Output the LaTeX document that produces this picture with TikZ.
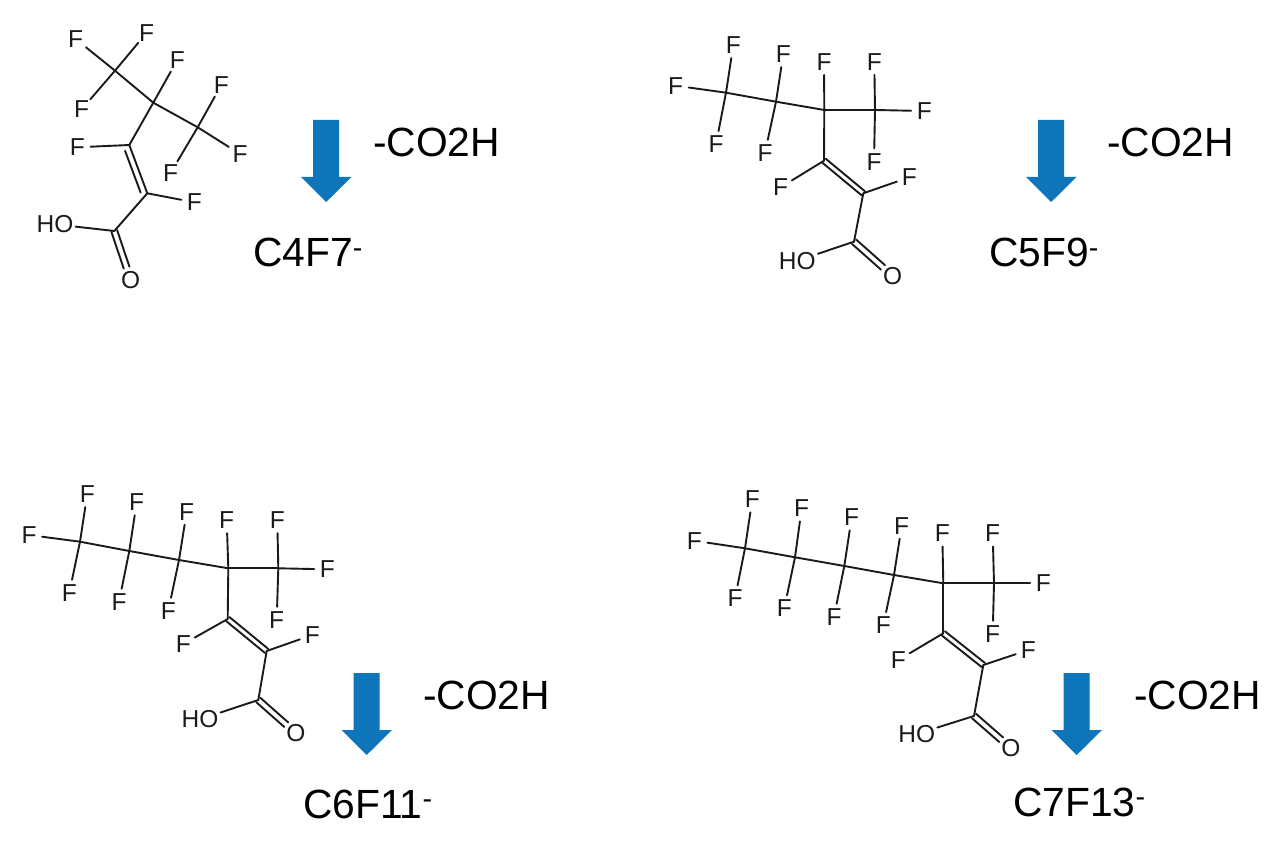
\documentclass[tikz,border=0pt]{standalone}
\usepackage{fontspec}
\setmainfont{Liberation Sans}
\usetikzlibrary{calc}
\definecolor{arrowblue}{HTML}{0E75BB}
\definecolor{bondgrey}{HTML}{1A1A1A}
\tikzset{
  atom/.style={circle,inner sep=0pt,minimum size=26pt,text=bondgrey,font=\fontsize{24.5}{28}\selectfont},
  hydroxyl/.style={rectangle,inner sep=2pt,text=bondgrey,font=\fontsize{24.5}{28}\selectfont},
  bond/.style={draw=bondgrey,line width=1.9pt,line cap=round},
  heading/.style={anchor=base west,inner sep=0pt,text=black,font=\fontsize{40.8}{48}\selectfont},
  flowarrow/.style={fill=arrowblue,draw=none}
}
% double C=C bond: main line a--b plus a shorter parallel partner
\newcommand{\ccdouble}[3]{%
  \draw[bond] (#1) -- (#2);
  \draw[bond,shorten <=4pt,shorten >=3pt] ($(#1)!#3!90:(#2)$) -- ($(#2)!#3!-90:(#1)$);
}
% double C=C bond: two lines either side of the axis
\newcommand{\ccsym}[2]{%
  \draw[bond] ($(#1)!2.6pt!90:(#2)$) -- ($(#2)!2.6pt!-90:(#1)$);
  \draw[bond] ($(#1)!2.6pt!-90:(#2)$) -- ($(#2)!2.6pt!90:(#1)$);
}
% double C=O bond: two lines either side of the axis, stopping short of O
\newcommand{\codouble}[2]{%
  \draw[bond,shorten >=13pt] ($(#1)!3pt!90:(#2)$) -- ($(#2)!3pt!-90:(#1)$);
  \draw[bond,shorten >=13pt] ($(#1)!3pt!-90:(#2)$) -- ($(#2)!3pt!90:(#1)$);
}
\newcommand{\flowdown}[2]{% left edge of head, top y
  \fill[flowarrow] (#1+12,#2) -- (#1+38,#2) -- (#1+38,#2+57) -- (#1+50.5,#2+57) -- (#1+25.2,#2+82) -- (#1,#2+57) -- (#1+12,#2+57) -- cycle;
}
\begin{document}
\begin{tikzpicture}[x=1pt,y=-1pt]
\useasboundingbox (0,0) rectangle (1280,858);
\fill[white] (0,0) rectangle (1280,858);

% ---------- Molecule 1 ----------
\coordinate (a1) at (115,70.7);
\coordinate (a2) at (153.3,102.7);
\coordinate (a3) at (197.7,127.3);
\coordinate (a4) at (129.3,145);
\coordinate (a5) at (147.3,193.3);
\coordinate (a6) at (114.3,231);
\node[atom] (af1) at (75.7,39) {F};
\node[atom] (af2) at (146.7,32.7) {F};
\node[atom] (af3) at (81.7,109.3) {F};
\node[atom] (af4) at (177.3,60) {F};
\node[atom] (af5) at (221.3,85) {F};
\node[atom] (af6) at (240,154) {F};
\node[atom] (af7) at (170.7,172.7) {F};
\node[atom] (af8) at (77.3,147.3) {F};
\node[atom] (af9) at (194.3,202.3) {F};
\node[hydroxyl] (aho) at (55,224.3) {HO};
\node[atom] (ao) at (130.7,280) {O};
\foreach \p/\q in {a1/af1,a1/af2,a1/af3,a1/a2,a2/af4,a2/a3,a3/af5,a3/af6,a3/af7,a2/a4,a4/af8,a5/af9,a5/a6,a6/aho}
  \draw[bond] (\p) -- (\q);
\ccdouble{a4}{a5}{-6pt}
\codouble{a6}{ao}

% ---------- Molecule 2 ----------
\coordinate (b1) at (726,92.7);
\coordinate (b2) at (776,101.7);
\coordinate (b3) at (824.3,110);
\coordinate (b4) at (875,110);
\coordinate (b5) at (824,160.7);
\coordinate (b6) at (863.3,193.3);
\coordinate (b7) at (854,241.7);
\node[atom] (bf1) at (733.3,45) {F};
\node[atom] (bf2) at (675.7,85.7) {F};
\node[atom] (bf3) at (716,144) {F};
\node[atom] (bf4) at (783.3,54) {F};
\node[atom] (bf5) at (765,152.7) {F};
\node[atom] (bf6) at (824,61.7) {F};
\node[atom] (bf7) at (874.3,61.7) {F};
\node[atom] (bf8) at (924.3,111) {F};
\node[atom] (bf9) at (874,161.7) {F};
\node[atom] (bf10) at (780.7,187.3) {F};
\node[atom] (bf11) at (909.3,177.3) {F};
\node[hydroxyl] (bho) at (797.3,260.7) {HO};
\node[atom] (bo) at (892.7,276) {O};
\foreach \p/\q in {b1/bf1,b1/bf2,b1/bf3,b1/b2,b2/bf4,b2/bf5,b2/b3,b3/bf6,b3/b4,b4/bf7,b4/bf8,b4/bf9,b3/b5,b5/bf10,b6/bf11,b6/b7,b7/bho}
  \draw[bond] (\p) -- (\q);
\ccsym{b5}{b6}
\codouble{b7}{bo}

% ---------- Molecule 3 ----------
\coordinate (c1) at (80,541.7);
\coordinate (c2) at (129.3,551);
\coordinate (c3) at (179,560);
\coordinate (c4) at (228.3,568.3);
\coordinate (c5) at (278.3,568.3);
\coordinate (c6) at (227.7,619);
\coordinate (c7) at (266.7,651);
\coordinate (c8) at (258.3,700);
\node[atom] (cf1) at (87.3,494) {F};
\node[atom] (cf2) at (29,535) {F};
\node[atom] (cf3) at (69.3,592.7) {F};
\node[atom] (cf4) at (136.7,502.3) {F};
\node[atom] (cf5) at (119,601.7) {F};
\node[atom] (cf6) at (186.7,511.7) {F};
\node[atom] (cf7) at (168.3,610.7) {F};
\node[atom] (cf8) at (226.7,520) {F};
\node[atom] (cf9) at (277.3,520) {F};
\node[atom] (cf10) at (327.3,569.3) {F};
\node[atom] (cf11) at (276.7,620) {F};
\node[atom] (cf12) at (183.3,644) {F};
\node[atom] (cf13) at (312.3,635) {F};
\node[hydroxyl] (cho) at (200,719.3) {HO};
\node[atom] (co) at (296,733.3) {O};
\foreach \p/\q in {c1/cf1,c1/cf2,c1/cf3,c1/c2,c2/cf4,c2/cf5,c2/c3,c3/cf6,c3/cf7,c3/c4,c4/cf8,c4/c5,c5/cf9,c5/cf10,c5/cf11,c4/c6,c6/cf12,c7/cf13,c7/c8,c8/cho}
  \draw[bond] (\p) -- (\q);
\ccsym{c6}{c7}
\codouble{c8}{co}

% ---------- Molecule 4 ----------
\coordinate (d1) at (745,548.3);
\coordinate (d2) at (795,557.3);
\coordinate (d3) at (844.3,566);
\coordinate (d4) at (894,575);
\coordinate (d5) at (943.3,583.3);
\coordinate (d6) at (994,583.3);
\coordinate (d7) at (943.3,633.3);
\coordinate (d8) at (983.3,665);
\coordinate (d9) at (974,716);
\node[atom] (df1) at (752.3,499.3) {F};
\node[atom] (df2) at (694.3,540.7) {F};
\node[atom] (df3) at (735,598.3) {F};
\node[atom] (df4) at (801.7,508.3) {F};
\node[atom] (df5) at (784.3,608.3) {F};
\node[atom] (df6) at (851.7,517.3) {F};
\node[atom] (df7) at (834,616.7) {F};
\node[atom] (df8) at (901.7,525.7) {F};
\node[atom] (df9) at (883.3,625) {F};
\node[atom] (df10) at (942.3,533.3) {F};
\node[atom] (df11) at (992.7,533.3) {F};
\node[atom] (df12) at (1043.3,583.3) {F};
\node[atom] (df13) at (992.7,634) {F};
\node[atom] (df14) at (898.3,660) {F};
\node[atom] (df15) at (1028.3,650) {F};
\node[hydroxyl] (dho) at (916.7,734) {HO};
\node[atom] (do) at (1011,748.3) {O};
\foreach \p/\q in {d1/df1,d1/df2,d1/df3,d1/d2,d2/df4,d2/df5,d2/d3,d3/df6,d3/df7,d3/d4,d4/df8,d4/df9,d4/d5,d5/df10,d5/d6,d6/df11,d6/df12,d6/df13,d5/d7,d7/df14,d8/df15,d8/d9,d9/dho}
  \draw[bond] (\p) -- (\q);
\ccsym{d7}{d8}
\codouble{d9}{do}

% ---------- Arrows ----------
\flowdown{301}{120}
\flowdown{1026}{120}
\flowdown{341.5}{673}
\flowdown{1051.5}{673}

% ---------- Labels ----------
\node[heading] (l1) at (373,157) {-CO2H};
\node[heading] (l2) at (1107,157) {-CO2H};
\node[heading] (l3) at (423,709) {-CO2H};
\node[heading] (l4) at (1134,709) {-CO2H};
\node[heading] (p1) at (253,267) {C4F7\textsuperscript{-}};
\node[heading] (p2) at (989,267) {C5F9\textsuperscript{-}};
\node[heading] (p3) at (303,818) {C6F11\textsuperscript{-}};
\node[heading] (p4) at (1013,816) {C7F13\textsuperscript{-}};
\end{tikzpicture}
\end{document}
